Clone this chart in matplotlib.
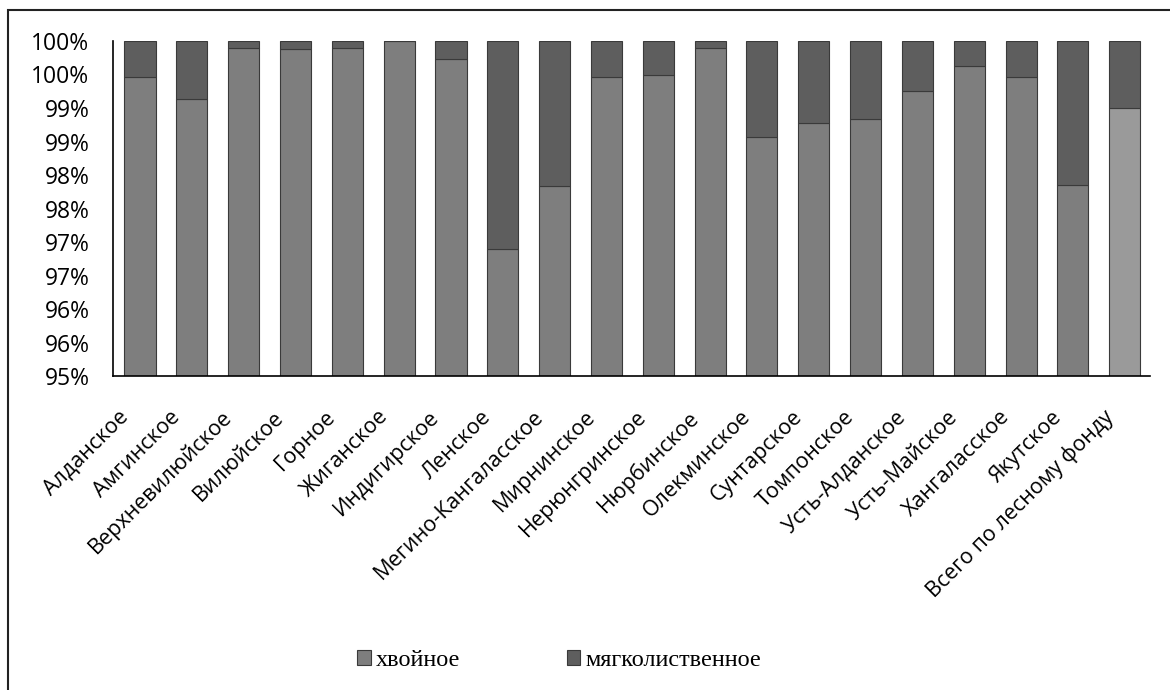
import numpy as np
import matplotlib.pyplot as plt
from matplotlib.patches import Rectangle
from matplotlib.transforms import ScaledTranslation

# лесничества
names = ['Алданское', 'Амгинское', 'Верхневилюйское', 'Вилюйское', 'Горное',
         'Жиганское', 'Индигирское', 'Ленское', 'Мегино-Кангаласское',
         'Мирнинское', 'Нерюнгринское', 'Нюрбинское', 'Олекминское',
         'Сунтарское', 'Томпонское', 'Усть-Алданское', 'Усть-Майское',
         'Хангаласское', 'Якутское', 'Всего по лесному фонду']
# доля, %
hvoi = [99.47, 99.13, 99.89, 99.88, 99.90, 100.0, 99.73, 96.90, 97.84, 99.47,
        99.49, 99.89, 98.57, 98.77, 98.84, 99.25, 99.63, 99.47, 97.85, 99.00]
myagk = [0.53, 0.87, 0.11, 0.12, 0.10, 0.0, 0.27, 3.10, 2.16, 0.53,
         0.51, 0.11, 1.43, 1.23, 1.16, 0.75, 0.37, 0.53, 2.15, 1.00]
yticks = [95, 95.5, 96, 96.5, 97, 97.5, 98, 98.5, 99, 99.5, 100]
ylabels = ['95%', '96%', '96%', '97%', '97%', '98%', '98%', '99%', '99%', '100%', '100%']

fig = plt.figure(figsize=(11.7, 6.9), dpi=100)
ax = fig.add_axes([0.0966, 0.455, 0.886, 0.4856])

x = np.arange(len(names))
c1 = ['#7e7e7e'] * (len(names) - 1) + ['#9a9a9a']
ax.bar(x, hvoi, width=0.6, color=c1, edgecolor='#3a3a3a', linewidth=0.8, label='хвойное')
ax.bar(x, myagk, width=0.6, bottom=hvoi, color='#5e5e5e', edgecolor='#3a3a3a',
       linewidth=0.8, label='мягколиственное')

ax.set_ylim(95, 100)
ax.set_xlim(-0.52, 19.48)
ax.set_yticks(yticks)
ax.set_yticklabels(ylabels, fontsize=16.5, family='Open Sans')
ax.tick_params(axis='y', length=0, pad=17)
ax.set_xticks(x)
ax.set_xticklabels(names, rotation=45, ha='right', rotation_mode='anchor',
                   fontsize=15.5, family='Open Sans')
ax.tick_params(axis='x', length=0, pad=22)
shift = ScaledTranslation(-0.22, 0, fig.dpi_scale_trans)
for lab in ax.get_xticklabels():
    lab.set_transform(lab.get_transform() + shift)
ax.spines['top'].set_visible(False)
ax.spines['right'].set_visible(False)
ax.spines['left'].set_linewidth(1.2)
ax.spines['bottom'].set_linewidth(1.2)

ax.legend(loc='center', bbox_to_anchor=(0.478, 0.043),
          bbox_transform=fig.transFigure, ncol=2, frameon=False,
          prop={'family': 'Liberation Serif', 'size': 17.5},
          handlelength=0.55, handleheight=0.55, handletextpad=0.2, columnspacing=4.4)

# рамка
fig.add_artist(Rectangle((0.0068, -0.1), 1.5, 1.0855, transform=fig.transFigure,
                         fill=False, edgecolor='#222222', linewidth=1.5))

plt.savefig('out.png')
